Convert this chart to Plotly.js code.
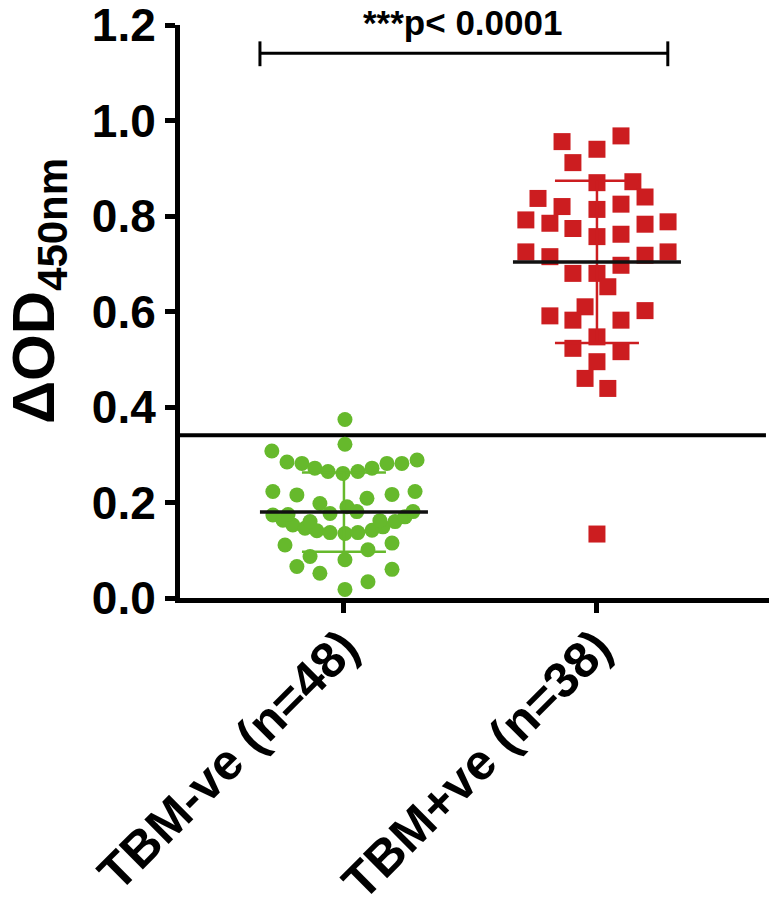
<!DOCTYPE html>
<html>
<head>
<meta charset="utf-8">
<script src="https://cdn.plot.ly/plotly-3.0.1.min.js"></script>
<style>html,body{margin:0;padding:0;background:#fff;}#chart{width:774px;height:897px;}</style>
</head>
<body>
<div id="chart"></div>
<script>
// ---- data ----
const categories = ["TBM-ve (n=48)", "TBM+ve (n=38)"];
const negValues = [0.374,0.322,0.308,0.285,0.282,0.272,0.265,0.261,0.265,0.272,0.282,0.282,0.289,
  0.223,0.216,0.209,0.217,0.223,0.198,0.177,0.191,0.181,
  0.174,0.163,0.153,0.146,0.141,0.137,0.135,0.137,0.142,0.149,0.160,0.170,0.181,0.175,0.160,0.162,
  0.111,0.115,0.087,0.101,0.080,0.066,0.052,0.034,0.060,0.018];
const negJitter = [0.004,0.004,-0.285,-0.225,-0.166,-0.115,-0.063,-0.004,0.055,0.111,0.170,0.229,0.289,
  -0.281,-0.186,0.091,0.190,0.281,-0.095,-0.055,0.012,0.051,
  -0.281,-0.241,-0.202,-0.154,-0.107,-0.055,0.004,0.055,0.111,0.154,0.202,0.241,0.273,-0.221,-0.134,0.142,
  -0.233,0.190,-0.134,0.095,0.004,-0.186,-0.095,0.095,0.190,0.004];
const posValues = [0.956,0.940,0.968,0.912,0.870,0.872,0.840,0.837,0.820,0.825,0.814,
  0.792,0.785,0.774,0.783,0.788,0.757,0.762,0.725,0.715,0.718,0.725,0.697,0.680,0.680,0.652,
  0.610,0.591,0.582,0.582,0.602,0.547,0.523,0.516,0.495,0.460,0.439,0.134];
const posJitter = [-0.138,0.000,0.095,-0.095,0.000,0.142,0.190,-0.233,-0.138,0.095,0.000,
  -0.281,-0.186,-0.095,0.190,0.281,0.000,0.095,-0.281,-0.186,0.190,0.281,0.095,-0.095,0.000,0.043,
  -0.047,-0.186,-0.095,0.095,0.190,0.000,-0.095,0.095,0.000,-0.047,0.043,0.000];
const groupMeans = [0.180, 0.704];
const groupSDs = [0.083, 0.170];
const cutoff = [0.341];
const yTickVals = [0, 0.2, 0.4, 0.6, 0.8, 1.0, 1.2];
const yTickText = ["0.0", "0.2", "0.4", "0.6", "0.8", "1.0", "1.2"];
const pText = "***p< 0.0001";

// ---- styling constants ----
const FONT = "Liberation Sans, Arial, Helvetica, sans-serif";
const GREEN = "#66b92c";
const RED = "#cc1d20";
const meanHalf = 0.332, sdHalf = 0.166;
const xRange = [-0.648, 1.68];

const traces = [];
traces.push({
  type: "scatter", mode: "markers",
  x: negValues.map((v, i) => 0 + negJitter[i]), y: negValues,
  marker: {symbol: "circle", size: 15, color: GREEN}, hoverinfo: "skip"
});
traces.push({
  type: "scatter", mode: "markers",
  x: posValues.map((v, i) => 1 + posJitter[i]), y: posValues,
  marker: {symbol: "square", size: 17, color: RED}, hoverinfo: "skip"
});
const colors = [GREEN, RED];
groupMeans.forEach((m, g) => {
  const s = groupSDs[g];
  traces.push({
    type: "scatter", mode: "lines",
    x: [g - sdHalf, g + sdHalf, null, g, g, null, g - sdHalf, g + sdHalf],
    y: [m + s, m + s, null, m + s, m - s, null, m - s, m - s],
    line: {color: colors[g], width: 2.5}, hoverinfo: "skip"
  });
  traces.push({
    type: "scatter", mode: "lines",
    x: [g - meanHalf, g + meanHalf], y: [m, m],
    line: {color: "#111", width: 3.5}, hoverinfo: "skip"
  });
});

const bracketY = 1.141, capLo = 1.114, capHi = 1.166, bx0 = -0.332, bx1 = 1.28;
const layout = {
  width: 774, height: 897,
  margin: {l: 180, r: 5, t: 25, b: 299},
  paper_bgcolor: "#fff", plot_bgcolor: "#fff",
  showlegend: false,
  font: {family: FONT, color: "#000"},
  xaxis: {
    range: xRange, tickvals: [0, 1], ticktext: categories, tickangle: -45,
    showline: true, linewidth: 5, linecolor: "#000", mirror: false,
    ticks: "outside", ticklen: 10, tickwidth: 5, tickcolor: "#000",
    showgrid: false, zeroline: false, ticklabelstandoff: -15, ticklabeloverflow: "allow",
    tickfont: {family: FONT, size: 50, color: "#000", weight: "bold"}
  },
  yaxis: {
    range: [0, 1.2003], tickmode: "array", tickvals: yTickVals, ticktext: yTickText,
    showline: true, linewidth: 5, linecolor: "#000",
    ticks: "outside", ticklen: 10, tickwidth: 5, tickcolor: "#000",
    showgrid: false, zeroline: false, ticklabeloverflow: "allow",
    tickfont: {family: FONT, size: 46, color: "#000", weight: "bold"}
  },
  shapes: [
    {type: "line", xref: "x", yref: "y", x0: xRange[0], x1: 1.668, y0: cutoff[0], y1: cutoff[0],
     line: {color: "#000", width: 4}, layer: "below"},
    {type: "line", xref: "x", yref: "y", x0: bx0, x1: bx1, y0: bracketY, y1: bracketY, line: {color: "#000", width: 3}},
    {type: "line", xref: "x", yref: "y", x0: bx0, x1: bx0, y0: capLo, y1: capHi, line: {color: "#000", width: 3}},
    {type: "line", xref: "x", yref: "y", x0: bx1, x1: bx1, y0: capLo, y1: capHi, line: {color: "#000", width: 3}}
  ],
  annotations: [
    {text: pText, xref: "x", yref: "paper", x: 0.47, y: 1.005, showarrow: false,
     xanchor: "center", yanchor: "middle",
     font: {family: FONT, size: 35, color: "#000", weight: "bold"}},
    {text: "ΔOD<sub>450nm</sub>", xref: "paper", yref: "paper", x: -0.24, y: 0.535,
     textangle: -90, showarrow: false, xanchor: "center", yanchor: "middle",
     font: {family: FONT, size: 60, color: "#000", weight: "bold"}}
  ]
};

Plotly.newPlot("chart", traces, layout, {displayModeBar: false, staticPlot: true});
</script>
</body>
</html>
